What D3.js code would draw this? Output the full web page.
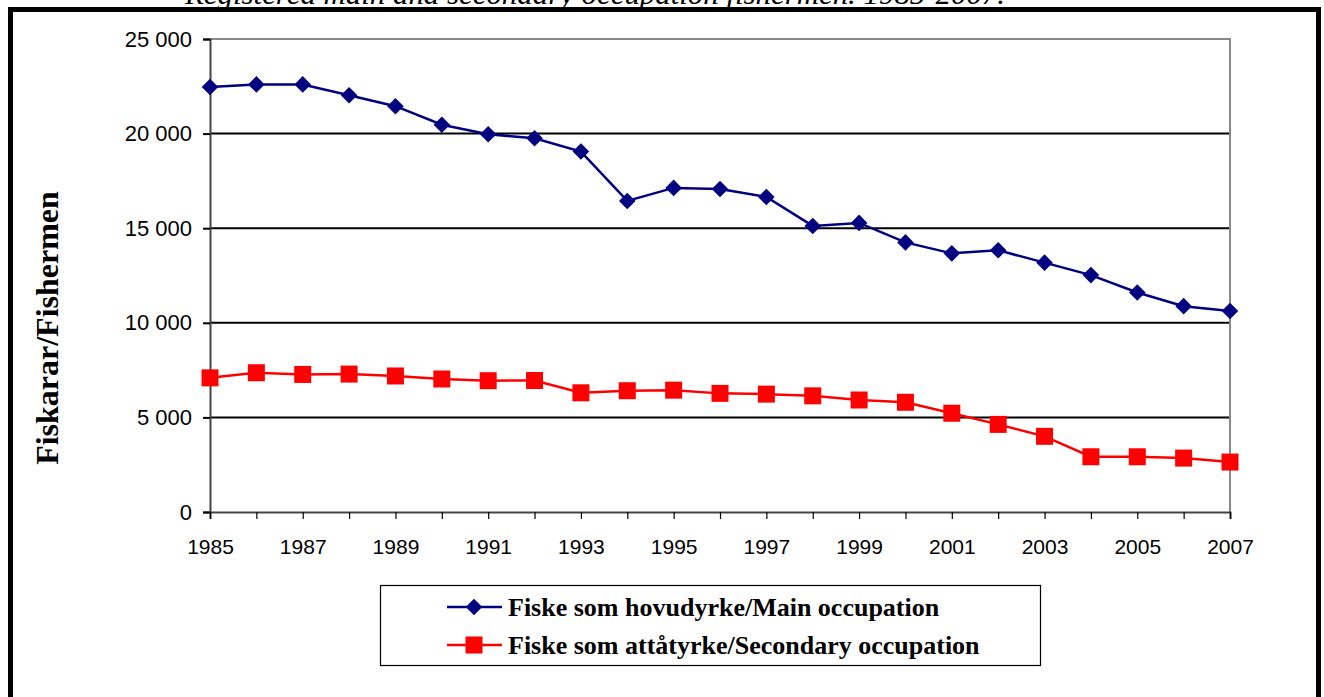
<!DOCTYPE html>
<html>
<head>
<meta charset="utf-8">
<script src="https://cdn.jsdelivr.net/npm/d3@7"></script>
<style>
  html, body { margin: 0; padding: 0; background: #fff; }
  svg { display: block; }
</style>
</head>
<body>
<svg id="chart" width="1324" height="697"></svg>
<script>
const years = d3.range(1985, 2008);
const mainOccupation = [22460, 22600, 22600, 22030, 21450, 20470, 19970, 19750, 19050, 16440, 17130, 17070,
    16650, 15120, 15280, 14250, 13670, 13830, 13180, 12520, 11600, 10880, 10620];
const secondaryOccupation = [7090, 7360, 7270, 7290, 7190, 7030, 6940, 6950, 6300, 6410, 6440, 6270,
    6230, 6140, 5920, 5800, 5220, 4630, 4000, 2920, 2920, 2850, 2640];
const yTicks = [0, 5000, 10000, 15000, 20000, 25000];
const xLabelYears = d3.range(1985, 2008, 2);
const seriesNames = ["Fiske som hovudyrke/Main occupation", "Fiske som attåtyrke/Secondary occupation"];
const title = "Registered main and secondary occupation fishermen. 1985-2007.";

const svg = d3.select("#chart");
const plotLeft = 210, plotRight = 1230, plotTop = 39, plotBottom = 512;

const x = d3.scaleLinear().domain([1985, 2007]).range([plotLeft, plotRight]);
const y = d3.scaleLinear().domain([0, 25000]).range([plotBottom, plotTop]);
const locale = d3.formatLocale({ decimal: ",", thousands: " ", grouping: [3], currency: ["", ""] });
const fmt = locale.format(",d");

// title, cut off by the frame like in the source
svg.append("text")
    .attr("x", 185).attr("y", 4)
    .attr("textLength", 820)
    .attr("lengthAdjust", "spacingAndGlyphs")
    .attr("font-family", "'Liberation Serif', 'Times New Roman', serif")
    .attr("font-style", "italic")
    .attr("font-size", 29)
    .text(title);

// outer frame
svg.append("rect")
    .attr("x", 10.5).attr("y", 9.5)
    .attr("width", 1308).attr("height", 720)
    .attr("fill", "none")
    .attr("stroke", "#000")
    .attr("stroke-width", 5);

// gridlines
svg.append("g")
    .selectAll("line")
    .data(yTicks.filter(d => d > 0 && d < 25000))
    .join("line")
    .attr("x1", plotLeft).attr("x2", plotRight)
    .attr("y1", d => y(d)).attr("y2", d => y(d))
    .attr("stroke", "#000")
    .attr("stroke-width", 2);

// plot frame (top and right in gray)
svg.append("path")
    .attr("d", `M${plotLeft},${y(25000)}H${plotRight}V${plotBottom}`)
    .attr("fill", "none")
    .attr("stroke", "#888")
    .attr("stroke-width", 2);

// y axis
const yAxis = svg.append("g")
    .attr("transform", `translate(${plotLeft},0)`)
    .call(d3.axisLeft(y).tickValues(yTicks).tickFormat(fmt).tickSize(7).tickPadding(11));
yAxis.select(".domain").attr("stroke", "#444").attr("stroke-width", 2);
yAxis.selectAll(".tick line").attr("stroke", "#000").attr("stroke-width", 2);
yAxis.selectAll("text")
    .style("font", "22px 'Liberation Sans', Arial, sans-serif")
    .attr("fill", "#000");

// x axis
const xAxis = svg.append("g")
    .attr("transform", `translate(0,${plotBottom})`)
    .call(d3.axisBottom(x).tickValues(years).tickSize(7).tickPadding(20)
        .tickFormat(d => xLabelYears.includes(d) ? String(d) : ""));
xAxis.select(".domain").attr("stroke", "#444").attr("stroke-width", 2);
xAxis.selectAll(".tick line").attr("stroke", "#000").attr("stroke-width", 1.2);
xAxis.selectAll("text")
    .style("font", "21px 'Liberation Sans', Arial, sans-serif")
    .attr("fill", "#000");

// y axis title
svg.append("text")
    .attr("transform", "translate(58,328) rotate(-90)")
    .attr("text-anchor", "middle")
    .style("font", "bold 32px 'Liberation Serif', 'Times New Roman', serif")
    .text("Fiskarar/Fishermen");

const line = d3.line().x((d, i) => x(years[i])).y(d => y(d));
const diamond = d3.symbol().type(d3.symbolDiamond2).size(175);

// main occupation
svg.append("path")
    .datum(mainOccupation)
    .attr("d", line)
    .attr("fill", "none")
    .attr("stroke", "#000080")
    .attr("stroke-width", 2.5);
svg.append("g")
    .selectAll("path")
    .data(mainOccupation)
    .join("path")
    .attr("transform", (d, i) => `translate(${x(years[i])},${y(d)})`)
    .attr("d", diamond)
    .attr("fill", "#000080");

// secondary occupation
svg.append("path")
    .datum(secondaryOccupation)
    .attr("d", line)
    .attr("fill", "none")
    .attr("stroke", "#ff0000")
    .attr("stroke-width", 2.5);
svg.append("g")
    .selectAll("rect")
    .data(secondaryOccupation)
    .join("rect")
    .attr("x", (d, i) => x(years[i]) - 8.5)
    .attr("y", d => y(d) - 8.5)
    .attr("width", 17).attr("height", 17)
    .attr("fill", "#ff0000");

// legend
const legend = svg.append("g");
legend.append("rect")
    .attr("x", 380.5).attr("y", 585.5)
    .attr("width", 660).attr("height", 80)
    .attr("fill", "#fff")
    .attr("stroke", "#000")
    .attr("stroke-width", 1.2);

const legendColors = ["#000080", "#ff0000"];
seriesNames.forEach((name, i) => {
    const ly = 607 + i * 38;
    legend.append("line")
        .attr("x1", 447).attr("x2", 502)
        .attr("y1", ly).attr("y2", ly)
        .attr("stroke", legendColors[i])
        .attr("stroke-width", 2.5);
    if (i === 0) {
        legend.append("path")
            .attr("transform", `translate(474,${ly})`)
            .attr("d", diamond)
            .attr("fill", legendColors[i]);
    } else {
        legend.append("rect")
            .attr("x", 465.5).attr("y", ly - 8.5)
            .attr("width", 17).attr("height", 17)
            .attr("fill", legendColors[i]);
    }
    legend.append("text")
        .attr("x", 508).attr("y", ly + 9)
        .style("font", "bold 26px 'Liberation Serif', 'Times New Roman', serif")
        .text(name);
});
</script>
</body>
</html>
